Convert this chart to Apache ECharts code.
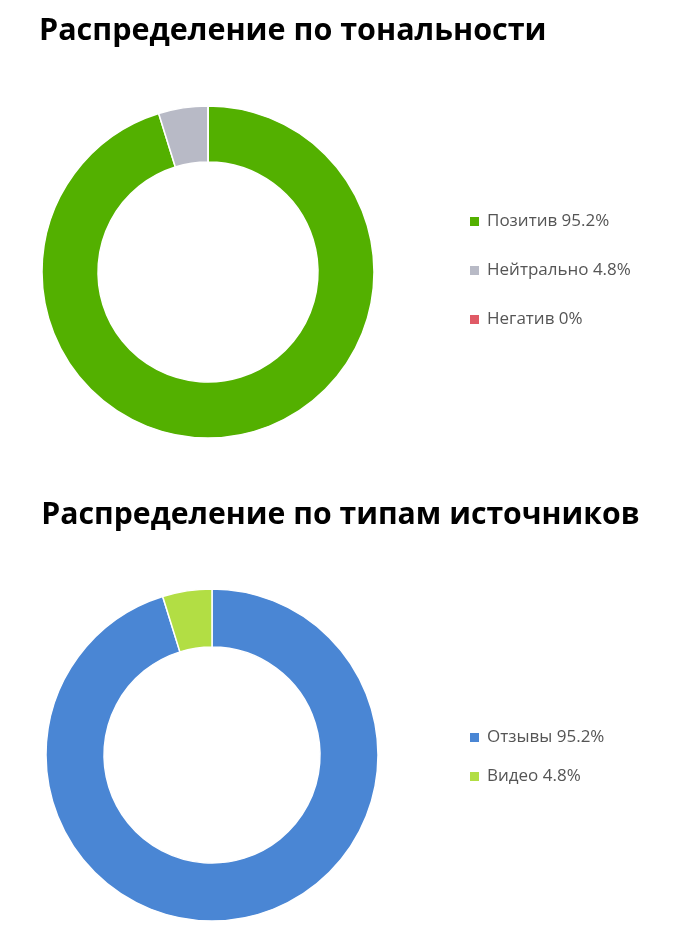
<!DOCTYPE html>
<html>
<head>
<meta charset="utf-8">
<script src="https://cdn.jsdelivr.net/npm/echarts@6/dist/echarts.min.js"></script>
<style>
  html, body { margin: 0; padding: 0; background: #fff; }
  #chart { width: 681px; height: 949px; }
</style>
</head>
<body>
<div id="chart"></div>
<script>
// данные (проценты)
const toneNames = ["Позитив", "Нейтрально", "Негатив"];
const toneValues = [95.2, 4.8, 0];
const toneColors = ["#53b000", "#b8bac6", "#e05a66"];

const sourceNames = ["Отзывы", "Видео"];
const sourceValues = [95.2, 4.8];
const sourceColors = ["#4a86d4", "#b2de44"];

const FONT = "Open Sans";

function pieData(names, values) {
    return names.map((n, i) => ({ name: n, value: values[i] }));
}
function legendFmt(names, values) {
    return function (name) {
        const i = names.indexOf(name);
        return name + " " + values[i] + "%";
    };
}

const chartDom = document.getElementById("chart");
const chart = echarts.init(chartDom, null, { renderer: "canvas" });

const legendText = { fontFamily: FONT, fontSize: 17, lineHeight: 17, color: "#555", padding: [0, 0, 0, 2] };

const option = {
    animation: false,
    title: [
        {
            text: "Распределение по тональности",
            left: 34, top: 11,
            textStyle: { fontFamily: FONT, fontSize: 30.5, fontWeight: "bold", color: "#000" }
        },
        {
            text: "Распределение по типам источников",
            left: "center", top: 495,
            textStyle: { fontFamily: FONT, fontSize: 30.2, fontWeight: "bold", color: "#000" }
        }
    ],
    legend: [
        {
            orient: "vertical",
            left: 468, top: 213, padding: 0,
            itemWidth: 11, itemHeight: 11, itemGap: 32,
            icon: "rect",
            data: toneNames,
            formatter: legendFmt(toneNames, toneValues),
            textStyle: legendText
        },
        {
            orient: "vertical",
            left: 468, top: 729, padding: 0,
            itemWidth: 11, itemHeight: 11, itemGap: 22,
            icon: "rect",
            data: sourceNames,
            formatter: legendFmt(sourceNames, sourceValues),
            textStyle: legendText
        }
    ],
    series: [
        {
            type: "pie",
            center: [208, 272],
            radius: [110, 166],
            startAngle: 90,
            clockwise: true,
            label: { show: false },
            labelLine: { show: false },
            emphasis: { disabled: true },
            itemStyle: { borderColor: "#fff", borderWidth: 1.5 },
            color: toneColors,
            data: pieData(toneNames, toneValues)
        },
        {
            type: "pie",
            center: [212, 755],
            radius: [108, 166],
            startAngle: 90,
            clockwise: true,
            label: { show: false },
            labelLine: { show: false },
            emphasis: { disabled: true },
            itemStyle: { borderColor: "#fff", borderWidth: 1.5 },
            color: sourceColors,
            data: pieData(sourceNames, sourceValues)
        }
    ]
};

chart.setOption(option);
</script>
</body>
</html>
